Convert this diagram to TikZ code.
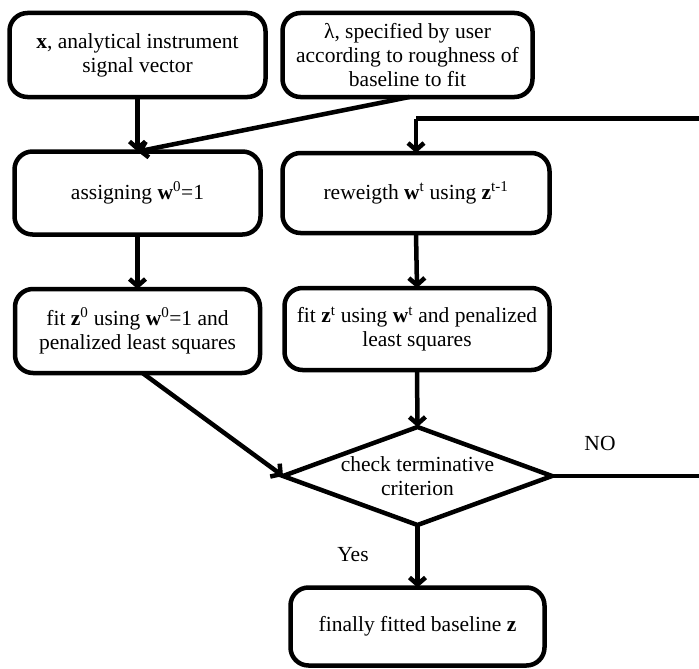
\documentclass[tikz,border=0pt]{standalone}
\usepackage{fontspec}
\setmainfont{Liberation Serif}
\usetikzlibrary{shapes.geometric,arrows.meta}
\newcommand{\vb}[1]{\textbf{#1}}
\begin{document}
\begin{tikzpicture}[x=1pt,y=-1pt,
  font=\fontsize{21.5}{24}\selectfont,
  every node/.style={inner sep=0pt, outer sep=0pt},
  flowbox/.style={draw, line width=4.5pt, rounded corners=18pt, align=center},
  decision/.style={draw, line width=4.5pt, diamond, inner sep=0pt},
  link/.style={line width=4.5pt, -{Straight Barb[length=7pt,width=16pt]}},
  plainlink/.style={line width=4.5pt}]
\useasboundingbox (0,0) rectangle (699,669);

% input boxes
\node[flowbox, minimum width=256pt, minimum height=84pt] (input) at (137.5,55)
  {\vb{x}, analytical instrument\\signal vector};
\node[flowbox, minimum width=250pt, minimum height=84pt] (lambda) at (407.5,55)
  {λ, specified by user\\according to roughness of\\baseline to fit};

% initialisation and reweighting
\node[flowbox, minimum width=246pt, minimum height=83pt] (init) at (137.5,193)
  {assigning \vb{w}\textsuperscript{0}=1};
\node[flowbox, minimum width=267pt, minimum height=80pt] (reweight) at (416,193)
  {reweigth \vb{w}\textsuperscript{t} using \vb{z}\textsuperscript{t-1}};

% fitting steps
\node[flowbox, minimum width=245pt, minimum height=84pt] (fit0) at (137.5,331)
  {fit \vb{z}\textsuperscript{0} using \vb{w}\textsuperscript{0}=1 and\\penalized least squares};
\node[flowbox, minimum width=265pt, minimum height=82pt] (fitt) at (417,329)
  {fit \vb{z}\textsuperscript{t} using \vb{w}\textsuperscript{t} and penalized\\least squares};

% stopping test
\node[decision, minimum width=269pt, minimum height=98pt,
  label={[align=center]center:check terminative\\criterion}] (check) at (417.5,476) {};

% result
\node[flowbox, minimum width=254pt, minimum height=78pt] (result) at (417.5,626.5)
  {finally fitted baseline \vb{z}};

% labels on the branches
\node (no) at (600,443) {NO};
\node (yes) at (353,555) {Yes};

% connectors
\draw[link] (input.south) -- (init.north);
\draw[link] ([xshift=2pt]lambda.south) -- (init.north);
\draw[link] (init.south) -- (fit0.north);
\draw[link] (reweight.south) -- (fitt.north);
\draw[link] ([xshift=5pt]fit0.south) -- (check.west);
\draw[link] (fitt.south) -- (check.north);
\draw[link] (check.south) -- (result.north);

% loop back to reweighting
\coordinate (loopout) at (720,476);
\coordinate (looptop) at (720,118.5);
\coordinate (loopin) at (reweight.north |- looptop);
\draw[plainlink] (check.east) -- (loopout) -- (looptop) -- (loopin);
\draw[link] (loopin) -- (reweight.north);
\end{tikzpicture}
\end{document}
